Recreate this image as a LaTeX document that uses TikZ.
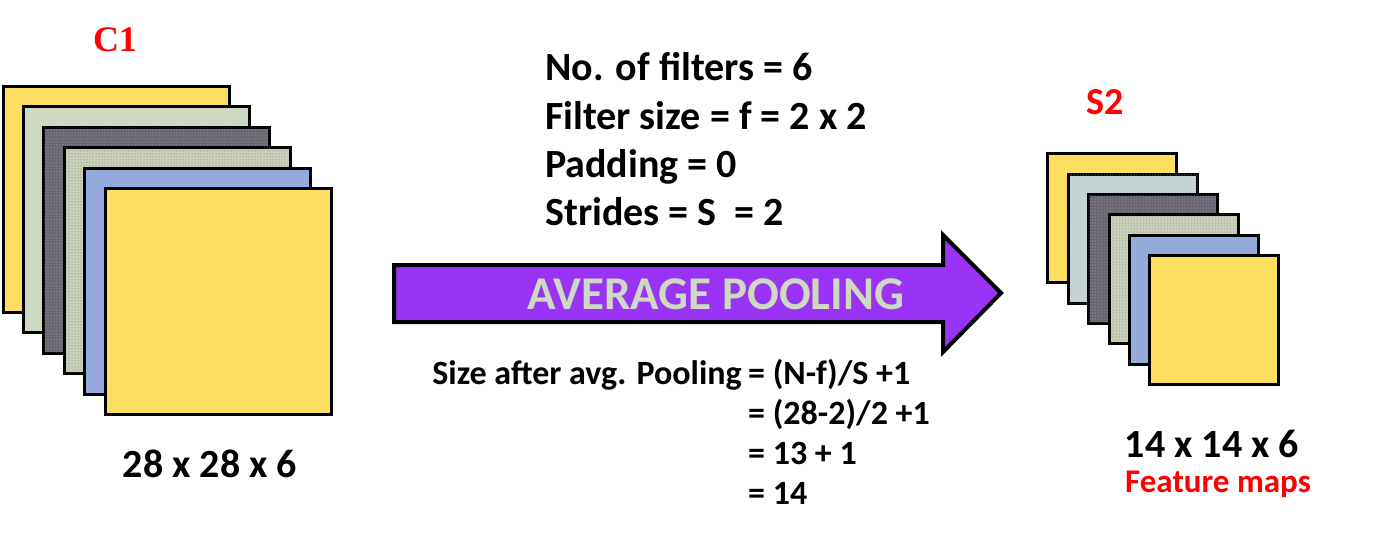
\documentclass[tikz,border=0pt]{standalone}
\usepackage{fontspec}
\setmainfont{Carlito}
\newfontfamily\titlefont{Liberation Serif}
\usepackage{tikz}
\usetikzlibrary{positioning,patterns}
\usepackage{xcolor}

\definecolor{mapyellow}{HTML}{FCDF5E}
\definecolor{mapsage}{HTML}{CED9C2}
\definecolor{mapdark}{HTML}{6B6570}
\definecolor{mapdot}{HTML}{C9D1BB}
\definecolor{mapblue}{HTML}{94AADB}
\definecolor{mapice}{HTML}{C6D4D2}
\definecolor{poolpurple}{HTML}{9933F5}
\definecolor{poolsage}{HTML}{CDD9C1}

\tikzset{
  fmap/.style={draw=black, line width=3pt, anchor=north west, inner sep=0pt},
  bigmap/.style={fmap, minimum width=226pt, minimum height=226pt},
  smallmap/.style={fmap, minimum width=129pt, minimum height=129pt},
  speck/.style={postaction={pattern=dots, pattern color=#1}},
  plain/.style={font=\bfseries\fontsize{40}{48}\selectfont, inner sep=0pt},
  small/.style={font=\bfseries\fontsize{34}{40}\selectfont, inner sep=0pt},
}

\begin{document}
\begin{tikzpicture}[x=1pt, y=-1pt]
  \useasboundingbox (0,0) rectangle (1400,535);

  % C1 stack
  \node[text=red, font=\titlefont\bfseries\fontsize{36}{40}\selectfont, inner sep=0pt]
    (c1lbl) at (115,40) {C1};
  \node[bigmap, fill=mapyellow] (c1a) at (2,85) {};
  \node[bigmap, fill=mapsage] (c1b) at (22,105) {};
  \node[bigmap, fill=mapdark, speck=mapblue!80] (c1c) at (42,126) {};
  \node[bigmap, fill=mapdot, speck=mapdark] (c1d) at (63,146) {};
  \node[bigmap, fill=mapblue] (c1e) at (83,167) {};
  \node[bigmap, fill=mapyellow] (c1f) at (104,187) {};
  \node[plain, anchor=base] (c1size) at (210,477) {28 x 28 x 6};

  % parameters
  \foreach \txt [count=\i] in {No. of filters = 6, Filter size = f = 2 x 2,
                               Padding = 0, Strides = S\ \ = 2}
    \node[plain, anchor=base west] (par\i) at (545,{33+48*\i}) {\txt};

  % pooling arrow
  \draw[line width=4pt, fill=poolpurple, miter limit=10]
    (394,265) -- (943,265) -- (943,235) -- (1001,293)
    -- (943,352) -- (943,322) -- (394,322) -- cycle;
  \node[inner sep=0pt, text=poolsage, font=\bfseries\fontsize{47}{50}\selectfont]
    (pool) at (716,294) {AVERAGE POOLING};

  % size computation
  \node[small, anchor=base east] (eqlbl) at (742,384) {Size after avg. Pooling};
  \foreach \txt [count=\i] in {= (N-f)/S +1, = (28-2)/2 +1, = 13 + 1, = 14}
    \node[small, anchor=base west] (eq\i) at (748,{344+40*\i}) {\txt};

  % S2 stack
  \node[text=red, font=\bfseries\fontsize{38}{44}\selectfont, inner sep=0pt]
    (s2lbl) at (1105,102) {S2};
  \node[smallmap, fill=mapyellow] (s2a) at (1046,152) {};
  \node[smallmap, fill=mapice, speck=mapblue!70] (s2b) at (1067,173) {};
  \node[smallmap, fill=mapdark, speck=mapblue!80] (s2c) at (1087,193) {};
  \node[smallmap, fill=mapdot, speck=mapdark] (s2d) at (1108,213) {};
  \node[smallmap, fill=mapblue] (s2e) at (1128,234) {};
  \node[smallmap, fill=mapyellow] (s2f) at (1148,254) {};
  \node[plain, anchor=base] (s2size) at (1212,457) {14 x 14 x 6};
  \node[text=red, font=\bfseries\fontsize{33}{40}\selectfont, inner sep=0pt,
        anchor=base west] (fmaps) at (1125,492) {Feature maps};
\end{tikzpicture}
\end{document}
